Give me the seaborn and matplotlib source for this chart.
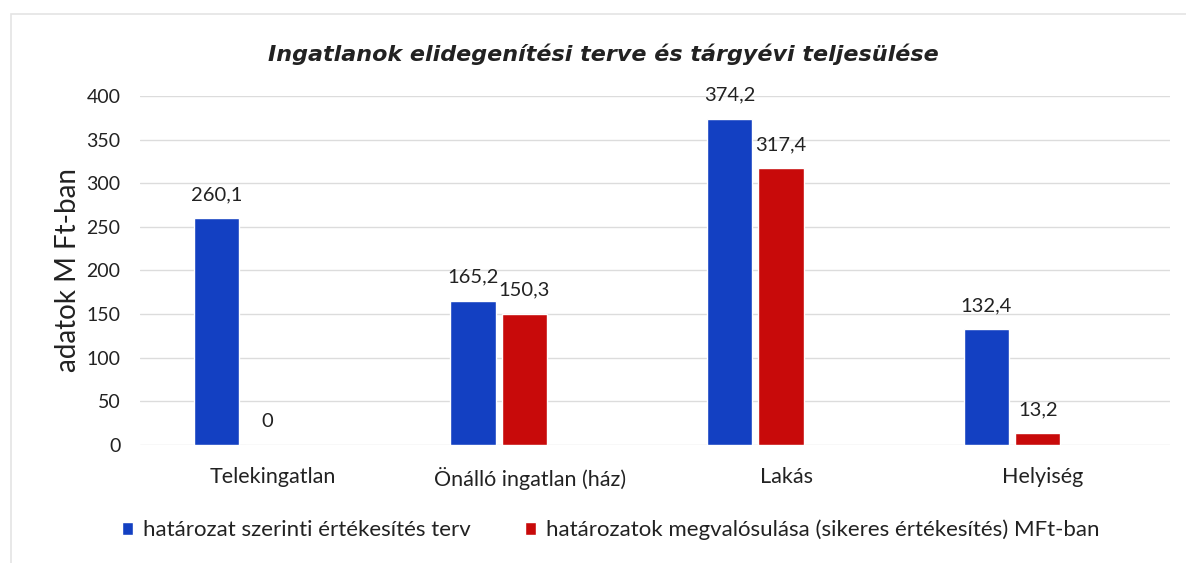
import pandas as pd
import matplotlib.pyplot as plt
import matplotlib.transforms as mtransforms
import seaborn as sns
from matplotlib.patches import Rectangle

# Adatok
kategoriak = ["Telekingatlan", "Önálló ingatlan (ház)", "Lakás", "Helyiség"]
terv = [260.1, 165.2, 374.2, 132.4]
teljesules = [0, 150.3, 317.4, 13.2]
sorozatok = ["határozat szerinti értékesítés terv",
             "határozatok megvalósulása (sikeres értékesítés) MFt-ban"]
y_tickek = [0, 50, 100, 150, 200, 250, 300, 350, 400]

df = pd.DataFrame({
    "Kategoria": kategoriak * 2,
    "Sorozat": [sorozatok[0]] * len(kategoriak) + [sorozatok[1]] * len(kategoriak),
    "Ertek": terv + teljesules,
})

sns.set_theme(style="white")
plt.rcParams['font.family'] = ['Lato', 'DejaVu Sans']

fig = plt.figure(figsize=(11.86, 5.63), dpi=100)
ax = fig.add_axes([0.1180, 0.2096, 0.8685, 0.6199])

szinek = ["#1340c2", "#c80a0a"]
sns.barplot(data=df, x="Kategoria", y="Ertek", hue="Sorozat", palette=szinek,
            width=0.40, gap=0.12, saturation=1, ax=ax, legend=True)

# Adatcímkék
for cont in ax.containers:
    for bar in cont:
        h = bar.get_height()
        ax.annotate(f"{h:g}".replace(".", ","),
                    (bar.get_x() + bar.get_width() / 2, h),
                    xytext=(0, 17), textcoords="offset points",
                    ha="center", va="center", fontsize=14.5, color="#222222")

ax.set_ylim(0, 400)
ax.set_xlim(-0.397, 3.615)
ax.set_yticks(y_tickek)
ax.yaxis.grid(True, color="#dcdcdc", linewidth=1.0)
ax.set_axisbelow(True)
sns.despine(ax=ax, left=True, bottom=True)
ax.tick_params(axis="y", length=0, pad=14, labelsize=14, labelcolor="#222222")
ax.tick_params(axis="x", length=0, pad=16, labelsize=15.5, labelcolor="#222222")
# a kategóriafeliratok az eredetin kicsit jobbra tolódnak
eltolas = mtransforms.ScaledTranslation(0.31, 0, fig.dpi_scale_trans)
for lbl in ax.get_xticklabels():
    lbl.set_transform(lbl.get_transform() + eltolas)
ax.set_xlabel("")
ax.set_ylabel("adatok M Ft-ban", fontsize=20, color="#222222", labelpad=4)

fig.text(0.509, 0.904, "Ingatlanok elidegenítési terve és tárgyévi teljesülése",
         ha="center", va="center", fontsize=16, fontweight="bold",
         fontstyle="oblique", family=["DejaVu Sans"],
         color="#222222")

h, l = ax.get_legend_handles_labels()
ax.legend(h, l, loc="center", bbox_to_anchor=(0.515, 0.0586),
          bbox_transform=fig.transFigure, ncol=2, frameon=False,
          fontsize=16, handlelength=0.5, handleheight=0.5,
          handletextpad=0.45, columnspacing=2.4, labelcolor="#222222")

# halvány keret a diagram körül
fig.patches.append(Rectangle((0.009, -0.05), 1.2, 1.025, transform=fig.transFigure,
                             fill=False, edgecolor="#e4e4e4", linewidth=1.2))

plt.savefig("out.png", dpi=100)
